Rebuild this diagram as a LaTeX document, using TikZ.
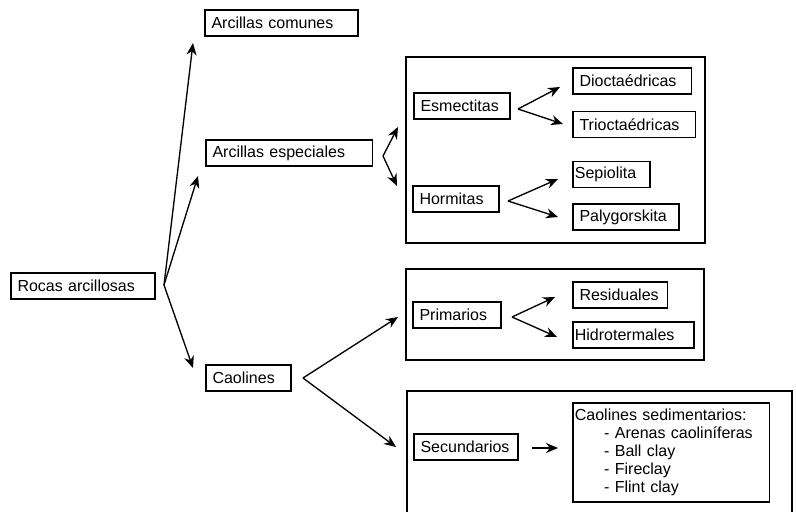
\documentclass[tikz,border=0pt]{standalone}
\usepackage{fontspec}
\setmainfont{Liberation Sans}
\usetikzlibrary{arrows.meta}
\begin{document}
\begin{tikzpicture}[x=0.75pt,y=-0.75pt,
    font=\fontsize{12}{13.5}\selectfont,
    caja/.style={draw, line width=1.3pt, anchor=west, minimum height=19.5pt,
      inner xsep=5pt, inner ysep=2pt, align=left, text width=#1},
    marco/.style={line width=1.3pt},
    flecha/.style={line width=1pt, -{Stealth[length=9pt,width=7.5pt]}}]
      \useasboundingbox (0,0) rectangle (796,511);
      \clip (0,0) rectangle (796,511);
      % frames
      \draw[marco] (406,57) rectangle (705,243);
      \draw[marco] (406,269) rectangle (704,360);
      \draw[marco] (407,520) |- (792,391) -- (792,520);
      % boxes
      \node[caja=98pt] (rocas) at (10,286) {Rocas arcillosas};
      \node[caja=105pt] (comunes) at (204,23) {Arcillas comunes};
      \node[caja=115pt] (especiales) at (205,153) {Arcillas especiales};
      \node[caja=53.75pt] (caolines) at (205,378) {Caolines};
      \node[caja=62pt] (esmectitas) at (413,106) {Esmectitas};
      \node[caja=79pt] (dioct) at (572,81) {Dioctaédricas};
      \node[caja=82pt] (trioct) at (572,124.5) {Trioctaédricas};
      \node[caja=54.5pt] (hormitas) at (412,199) {Hormitas};
      \node[caja=54.75pt, inner xsep=1.5pt] (sepiolita) at (572,174.5) {Sepiolita};
      \node[caja=69.5pt] (paly) at (572,217) {Palygorskita};
      \node[caja=56pt] (primarios) at (412,315) {Primarios};
      \node[caja=61pt] (residuales) at (572,295) {Residuales};
      \node[caja=87.75pt, inner xsep=1.5pt] (hidro) at (572,335) {Hidrotermales};
      \node[caja=68pt] (secundarios) at (413,447) {Secundarios};
      \node[caja=144.5pt, inner xsep=1.5pt, anchor=north west, minimum height=74.25pt,
        inner ysep=3pt] (sedim) at (572,402)
        {Caolines sedimentarios:\\
         \hspace*{22pt}- Arenas caoliníferas\\
         \hspace*{22pt}- Ball clay\\
         \hspace*{22pt}- Fireclay\\
         \hspace*{22pt}- Flint clay};
      % fork points and arrow ends
      \coordinate (r0) at (164,285);
      \coordinate (r1) at (193,43);
      \coordinate (r2) at (198,176);
      \coordinate (r3) at (193,368);
      \coordinate (e0) at (383,156);
      \coordinate (e1) at (398,127);
      \coordinate (e2) at (397,186);
      \coordinate (s0) at (518,109);
      \coordinate (s1) at (560,87);
      \coordinate (s2) at (563,124);
      \coordinate (h0) at (508,201);
      \coordinate (h1) at (558,179);
      \coordinate (h2) at (558,217);
      \coordinate (c0) at (303,378);
      \coordinate (c1) at (398,317);
      \coordinate (c2) at (396,447);
      \coordinate (p0) at (512,317);
      \coordinate (p1) at (555,297);
      \coordinate (p2) at (557,337);
      \coordinate (k0) at (532,448);
      \coordinate (k1) at (558,448);
      \begin{scope}[flecha]
        \draw (r0) to (r1);
        \draw (r0) to (r2);
        \draw (r0) to (r3);
        \draw (e0) to (e1);
        \draw (e0) to (e2);
        \draw (s0) to (s1);
        \draw (s0) to (s2);
        \draw (h0) to (h1);
        \draw (h0) to (h2);
        \draw (c0) to (c1);
        \draw (c0) to (c2);
        \draw (p0) to (p1);
        \draw (p0) to (p2);
        \draw (k0) to (k1);
      \end{scope}
    \end{tikzpicture}
\end{document}
